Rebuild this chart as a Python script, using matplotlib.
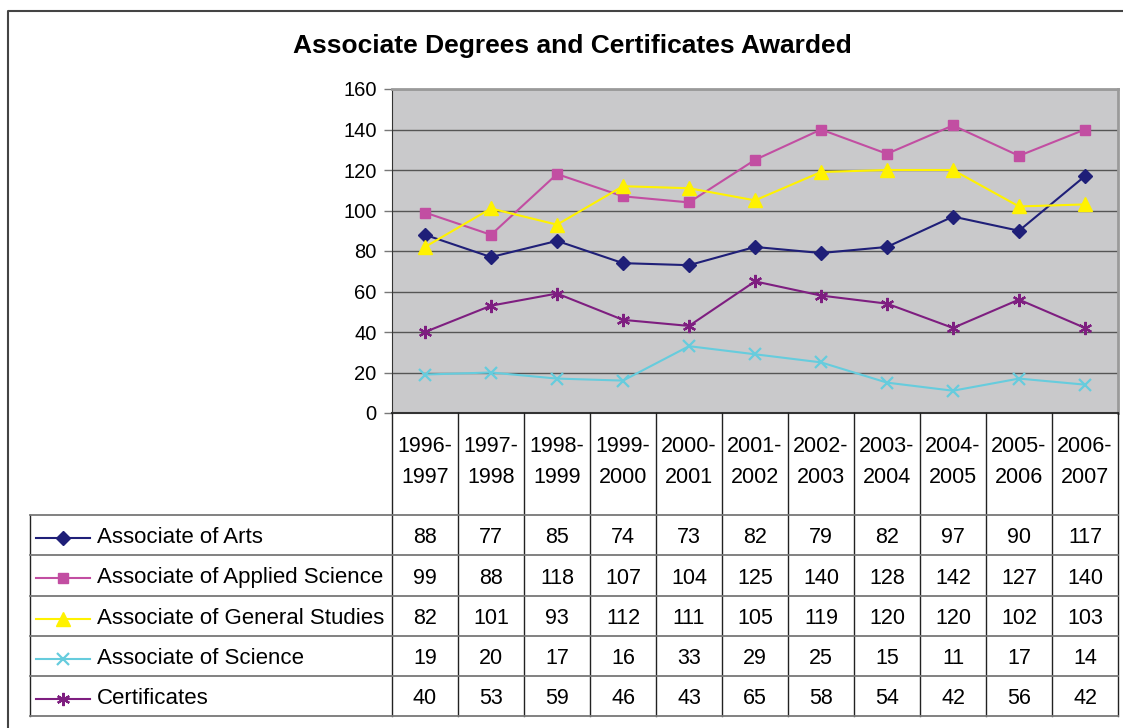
import numpy as np
import matplotlib
matplotlib.use('Agg')
from matplotlib import pyplot as plt
from matplotlib.lines import Line2D

plt.rcParams['font.family'] = ['Liberation Sans', 'DejaVu Sans']

years = ['1996-\n1997', '1997-\n1998', '1998-\n1999', '1999-\n2000', '2000-\n2001',
         '2001-\n2002', '2002-\n2003', '2003-\n2004', '2004-\n2005', '2005-\n2006',
         '2006-\n2007']
arts = [88, 77, 85, 74, 73, 82, 79, 82, 97, 90, 117]
applied = [99, 88, 118, 107, 104, 125, 140, 128, 142, 127, 140]
general = [82, 101, 93, 112, 111, 105, 119, 120, 120, 102, 103]
science = [19, 20, 17, 16, 33, 29, 25, 15, 11, 17, 14]
certs = [40, 53, 59, 46, 43, 65, 58, 54, 42, 56, 42]

names = ['Associate of Arts', 'Associate of Applied Science',
         'Associate of General Studies', 'Associate of Science', 'Certificates']
series = [arts, applied, general, science, certs]
colors = ['#1F1F78', '#C24EA2', '#FFF200', '#66CCDD', '#7E1E80']
markers = ['D', 's', '^', 'x', (6, 2, 0)]
msizes = [7.5, 7.5, 9.5, 8.5, 9.5]

W, H = 1123, 728
L, R, T, B = 392, 1118, 89, 413  # plot area in pixels

fig = plt.figure(figsize=(W / 100, H / 100), dpi=100)
fig.patch.set_facecolor('white')

ax = fig.add_axes([L / W, 1 - B / H, (R - L) / W, (B - T) / H])
ax.set_facecolor('#C9C9CB')
x = np.arange(len(years))
for s, c, m, ms in zip(series, colors, markers, msizes):
    mew = 1.6 if m in ('x', (6, 2, 0)) else 1
    ax.plot(x, s, color=c, lw=1.5, marker=m, markersize=ms, markeredgewidth=mew,
            markeredgecolor=c, markerfacecolor=c)
ax.set_xlim(-0.5, len(years) - 0.5)
ax.set_ylim(0, 160)
ax.set_yticks(range(0, 161, 20))
ax.set_xticks([])
ax.yaxis.grid(True, color='#555555', lw=1)
ax.set_axisbelow(True)
ax.tick_params(axis='y', labelsize=14.5, length=6, width=1, color='#777777', pad=5)
for k in ['top', 'right']:
    ax.spines[k].set_color('#9A9A9A')
    ax.spines[k].set_linewidth(2)
ax.spines['left'].set_color('#333333')
ax.spines['bottom'].set_color('#333333')
ax.spines['bottom'].set_linewidth(1.5)

fig.text(572 / W, 1 - 46 / H, 'Associate Degrees and Certificates Awarded',
         fontsize=19, fontweight='bold', ha='center', va='center')

# overlay in pixel space for frame and data table
ov = fig.add_axes([0, 0, 1, 1])
ov.set_xlim(0, W)
ov.set_ylim(H, 0)
ov.axis('off')

ov.plot([8, 8, W], [H, 11, 11], color='#444444', lw=1.5)

n = len(years)
cw = (R - L) / n
rows = [515, 555, 596, 636, 676, 716]
tl = 30

for i in range(n + 1):
    ov.plot([L + i * cw] * 2, [B, rows[-1]], color='#222222', lw=1)
ov.plot([tl, tl], [rows[0], rows[-1]], color='#222222', lw=1)
for y in rows:
    ov.plot([tl, R], [y, y], color='#777777', lw=1.3)

for i, yr in enumerate(years):
    ov.text(L + (i + 0.5) * cw, 462, yr, fontsize=15.5, ha='center', va='center',
            linespacing=1.6)

for r, (nm, s, c, m, ms) in enumerate(zip(names, series, colors, markers, msizes)):
    yc = (rows[r] + rows[r + 1]) / 2 + 2.5
    mew = 1.6 if m in ('x', (6, 2, 0)) else 1
    ov.add_line(Line2D([36, 90], [yc, yc], color=c, lw=1.5))
    ov.add_line(Line2D([63], [yc], marker=m, markersize=ms, color=c,
                       markeredgewidth=mew))
    ov.text(97, yc, nm, fontsize=16, ha='left', va='center')
    for i, v in enumerate(s):
        ov.text(L + (i + 0.5) * cw, yc, str(v), fontsize=15.5, ha='center', va='center')

fig.savefig('out.png', dpi=100)
